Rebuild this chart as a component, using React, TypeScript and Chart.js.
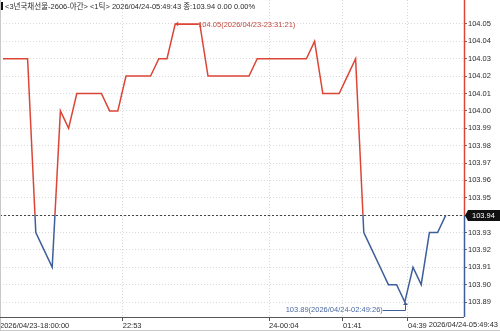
import React, { useEffect, useRef } from "react";
import { Chart, registerables } from "chart.js";

Chart.register(...registerables);

// ---------- data ----------
const titleText = "<3년국채선물-2606-야간> <1틱> 2026/04/24-05:49:43 종:103.94 0.00 0.00%";

const prices: number[] = [
  104.03, 104.03, 104.03, 104.03, 103.93, 103.92, 103.91, 104.0, 103.99, 104.01,
  104.01, 104.01, 104.01, 104.0, 104.0, 104.02, 104.02, 104.02, 104.02, 104.03,
  104.03, 104.05, 104.05, 104.05, 104.05, 104.02, 104.02, 104.02, 104.02, 104.02,
  104.02, 104.03, 104.03, 104.03, 104.03, 104.03, 104.03, 104.03, 104.04, 104.01,
  104.01, 104.01, 104.02, 104.03, 103.93, 103.92, 103.91, 103.9, 103.9, 103.89,
  103.91, 103.9, 103.93, 103.93, 103.94,
];

const refPrice = 103.94;
const yTickValues: number[] = [
  103.89, 103.9, 103.91, 103.92, 103.93, 103.94, 103.95, 103.96, 103.97,
  103.98, 103.99, 104.0, 104.01, 104.02, 104.03, 104.04, 104.05,
];
const yMin = 103.8814;
const yMax = 104.0638;

const xMin = -0.366;
const xMax = 56.22;
const timeTickPos: number[] = [-0.366, 14.6, 32.44, 41.46, 49.39];
const timeTickLabels: string[] = ["2026/04/23-18:00:00", "22:53", "24-00:04", "01:41", "04:39"];
const lastTimeLabel = "2026/04/24-05:49:43";
const highLabel = "104.05(2026/04/23-23:31:21)";
const lowLabel = "103.89(2026/04/24-02:49:26)";

// ---------- styles ----------
const RED = "#dc4535";
const BLUE = "#3d5f99";
const TXT = "#2a2a2a";
const FAM = "'Liberation Sans',Arial,'Noto Sans CJK KR',sans-serif";

const overlay = {
  id: "overlay",
  beforeDatasetsDraw(chart: any) {
    const { ctx, chartArea } = chart;
    const ys = chart.scales.y;
    const yRef = Math.round(ys.getPixelForValue(refPrice)) + 0.5;
    ctx.save();
    ctx.strokeStyle = "#444";
    ctx.lineWidth = 1;
    ctx.setLineDash([2, 2]);
    ctx.beginPath();
    ctx.moveTo(chartArea.left, yRef);
    ctx.lineTo(chartArea.right, yRef);
    ctx.stroke();
    ctx.restore();
  },
  afterDraw(chart: any) {
    const { ctx, chartArea } = chart;
    const { right, bottom } = chartArea;
    const xs = chart.scales.x;
    const ys = chart.scales.y;
    const W = chart.width;
    const H = chart.height;
    const yRef = Math.round(ys.getPixelForValue(refPrice)) + 0.5;
    ctx.save();

    // frame
    ctx.lineWidth = 1;
    ctx.strokeStyle = "#c8c8c8";
    ctx.beginPath();
    ctx.moveTo(0.5, 0);
    ctx.lineTo(0.5, H);
    ctx.moveTo(0, H - 0.5);
    ctx.lineTo(W, H - 0.5);
    ctx.stroke();

    // x axis line
    ctx.strokeStyle = "#555";
    ctx.beginPath();
    ctx.moveTo(0, Math.round(bottom) + 0.5);
    ctx.lineTo(right, Math.round(bottom) + 0.5);
    ctx.stroke();

    // right axis line (red above ref, blue below)
    const rx = Math.round(right) + 0.5;
    ctx.lineWidth = 1.5;
    ctx.strokeStyle = RED;
    ctx.beginPath();
    ctx.moveTo(rx, 0);
    ctx.lineTo(rx, yRef);
    ctx.stroke();
    ctx.strokeStyle = BLUE;
    ctx.beginPath();
    ctx.moveTo(rx, yRef);
    ctx.lineTo(rx, bottom);
    ctx.stroke();

    // header
    ctx.fillStyle = "#111";
    ctx.fillRect(1, 2, 2, 8);
    ctx.font = `7.5px ${FAM}`;
    ctx.fillStyle = TXT;
    ctx.textAlign = "left";
    ctx.textBaseline = "middle";
    ctx.fillText(titleText, 5, 6.5);

    // last time label
    ctx.font = `7.5px ${FAM}`;
    ctx.textAlign = "right";
    ctx.textBaseline = "top";
    ctx.fillStyle = TXT;
    ctx.fillText(lastTimeLabel, W - 2, Math.round(bottom) + 4);

    // current value box
    ctx.fillStyle = "#111";
    ctx.beginPath();
    ctx.moveTo(right + 1, yRef);
    ctx.lineTo(right + 4, yRef - 5.5);
    ctx.lineTo(W, yRef - 5.5);
    ctx.lineTo(W, yRef + 5.5);
    ctx.lineTo(right + 4, yRef + 5.5);
    ctx.closePath();
    ctx.fill();
    ctx.fillStyle = "#fff";
    ctx.font = `7.5px ${FAM}`;
    ctx.textAlign = "left";
    ctx.textBaseline = "middle";
    ctx.fillText(refPrice.toFixed(2), right + 8, yRef + 0.5);

    // high annotation
    const maxV = Math.max(...prices);
    const iMax = prices.indexOf(maxV);
    const hx = xs.getPixelForValue(iMax);
    const hy = ys.getPixelForValue(maxV);
    ctx.strokeStyle = RED;
    ctx.fillStyle = RED;
    ctx.lineWidth = 1;
    ctx.beginPath();
    ctx.moveTo(hx, Math.round(hy) + 0.5);
    ctx.lineTo(hx + 23, Math.round(hy) + 0.5);
    ctx.stroke();
    ctx.beginPath();
    ctx.moveTo(hx, hy);
    ctx.lineTo(hx + 3, hy - 2.5);
    ctx.lineTo(hx + 3, hy + 2.5);
    ctx.closePath();
    ctx.fill();
    ctx.fillStyle = "#c2493c";
    ctx.font = `7.5px ${FAM}`;
    ctx.textAlign = "left";
    ctx.textBaseline = "middle";
    ctx.fillText(highLabel, hx + 23, hy + 0.5);

    // low annotation
    const minV = Math.min(...prices);
    const iMin = prices.indexOf(minV);
    const lx = xs.getPixelForValue(iMin);
    const ly = ys.getPixelForValue(minV);
    const lineY = Math.round(ly) + 8.5;
    ctx.strokeStyle = BLUE;
    ctx.fillStyle = BLUE;
    ctx.beginPath();
    ctx.moveTo(lx - 22, lineY);
    ctx.lineTo(Math.round(lx) + 0.5, lineY);
    ctx.lineTo(Math.round(lx) + 0.5, ly + 2);
    ctx.stroke();
    ctx.beginPath();
    ctx.moveTo(Math.round(lx) + 0.5, ly);
    ctx.lineTo(Math.round(lx) - 2, ly + 3);
    ctx.lineTo(Math.round(lx) + 3, ly + 3);
    ctx.closePath();
    ctx.fill();
    ctx.fillStyle = "#4a68a3";
    ctx.textAlign = "right";
    ctx.textBaseline = "middle";
    ctx.fillText(lowLabel, lx - 22, lineY - 1);

    ctx.restore();
  },
};

export default function App() {
  const ref = useRef<HTMLCanvasElement | null>(null);

  useEffect(() => {
    if (!ref.current) return;
    const lineColor = (context: any) => {
      const chart = context.chart;
      const { chartArea, scales } = chart;
      if (!chartArea || !scales || !scales.y) return RED;
      const y0 = scales.y.getPixelForValue(refPrice);
      const g = chart.ctx.createLinearGradient(0, chartArea.top, 0, chartArea.bottom);
      const t = Math.min(1, Math.max(0, (y0 - chartArea.top) / (chartArea.bottom - chartArea.top)));
      g.addColorStop(0, RED);
      g.addColorStop(t, RED);
      g.addColorStop(t, BLUE);
      g.addColorStop(1, BLUE);
      return g;
    };

    const chart = new Chart(ref.current, {
      type: "line",
      data: {
        datasets: [
          {
            data: prices.map((v, i) => ({ x: i, y: v })),
            borderColor: lineColor,
            borderWidth: 1.5,
            pointRadius: 0,
            tension: 0,
            fill: false,
          },
        ],
      },
      options: {
        animation: false,
        responsive: false,
        devicePixelRatio: 1,
        layout: { padding: 0 },
        plugins: { legend: { display: false }, tooltip: { enabled: false } },
        scales: {
          x: {
            type: "linear",
            position: "bottom",
            min: xMin,
            max: xMax,
            afterBuildTicks: (scale: any) => {
              scale.ticks = timeTickPos.map((v) => ({ value: v }));
            },
            afterFit: (scale: any) => {
              scale.height = 14;
              scale.paddingLeft = 0;
              scale.paddingRight = 0;
            },
            grid: {
              color: "#d9d9d9",
              lineWidth: 1,
              tickLength: 4,
              tickColor: "#555",
              drawTicks: true,
            },
            border: { display: false, dash: [1, 2] },
            ticks: {
              autoSkip: false,
              maxRotation: 0,
              minRotation: 0,
              align: "start",
              padding: 0,
              color: TXT,
              font: { size: 7.5, family: FAM },
              callback: (_v: any, i: number) => timeTickLabels[i],
            },
          },
          y: {
            type: "linear",
            position: "right",
            min: yMin,
            max: yMax,
            afterBuildTicks: (scale: any) => {
              scale.ticks = yTickValues.map((v) => ({ value: v }));
            },
            afterFit: (scale: any) => {
              scale.width = 36;
              scale.paddingTop = 0;
              scale.paddingBottom = 0;
            },
            grid: {
              color: "#d9d9d9",
              lineWidth: 1,
              tickLength: 3,
              tickColor: "#666",
              drawTicks: true,
            },
            border: { display: false, dash: [1, 2] },
            ticks: {
              padding: 1,
              color: TXT,
              font: { size: 7.5, family: FAM },
              callback: (v: any) => Number(v).toFixed(2),
            },
          },
        },
      },
      plugins: [overlay],
    });
    return () => chart.destroy();
  }, []);

  return (
    <div style={{ position: "absolute", left: 0, top: 0, width: 500, height: 331, background: "#fff" }}>
      <canvas ref={ref} width={500} height={331} style={{ display: "block", width: 500, height: 331 }} />
    </div>
  );
}
